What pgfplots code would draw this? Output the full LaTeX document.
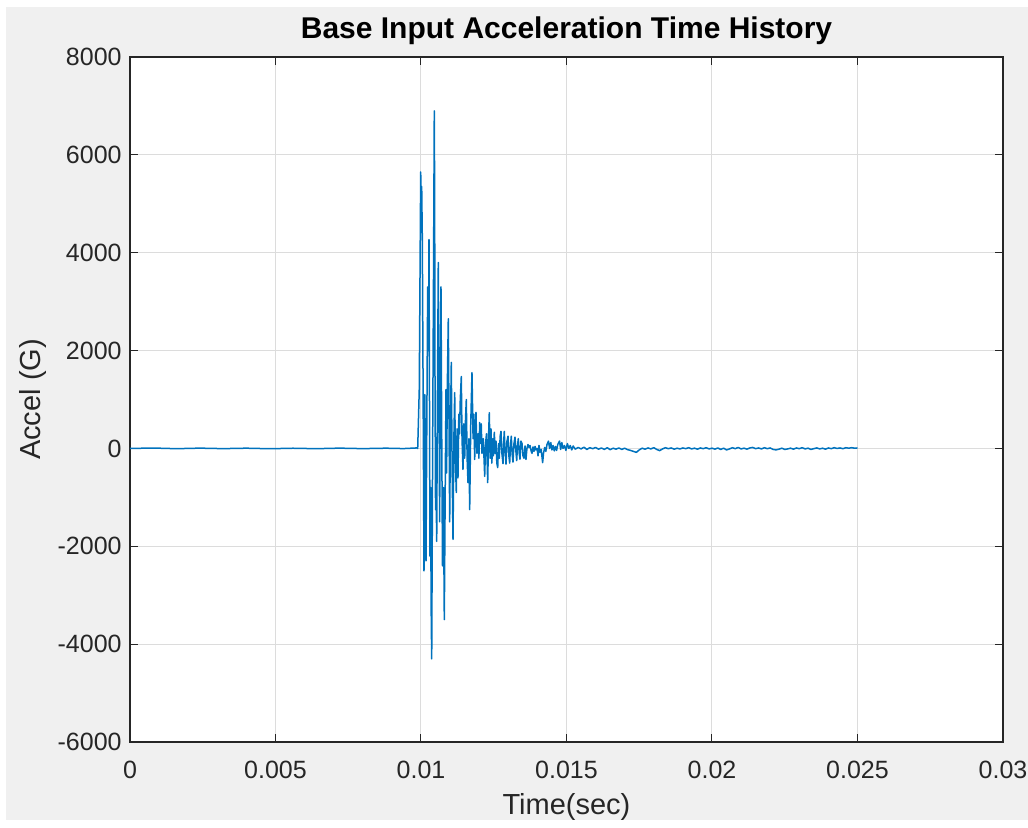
\documentclass[border=0pt]{standalone}
\usepackage{fontspec}
\setmainfont{Liberation Sans}
\usepackage{pgfplots}
\pgfplotsset{compat=1.18}
\definecolor{figbg}{HTML}{F0F0F0}
\definecolor{axgray}{HTML}{262626}
\definecolor{gridgray}{HTML}{DCDCDC}
\definecolor{mblue}{HTML}{0072BD}
\begin{document}
\begin{tikzpicture}
\useasboundingbox (-65pt,-42.5pt) rectangle (449pt,371pt);
\fill[white] (-65pt,-42.5pt) rectangle (449pt,371pt);
\fill[figbg] (-62pt,-39pt) rectangle (449pt,367.5pt);
\begin{axis}[
    at={(0,0)}, anchor=south west,
    scale only axis,
    width=436.5pt, height=342.5pt,
    xmin=0, xmax=0.03, ymin=-6000, ymax=8000,
    scaled x ticks=false, scaled y ticks=false,
    xtick={0,0.005,0.01,0.015,0.02,0.025,0.03},
    xticklabels={0,0.005,0.01,0.015,0.02,0.025,0.03},
    ytick={-6000,-4000,-2000,0,2000,4000,6000,8000},
    yticklabels={-6000,-4000,-2000,0,2000,4000,6000,8000},
    axis background/.style={fill=white},
    axis line style={axgray, line width=0.6pt},
    grid=major,
    major grid style={gridgray, line width=0.5pt},
    tick align=inside,
    major tick length=4pt,
    tick style={axgray, line width=0.5pt},
    ticklabel style={font=\fontsize{12.5}{14}\selectfont, text=axgray},
    xticklabel style={anchor=north, inner sep=0pt, yshift=-9.5pt},
    yticklabel style={anchor=east, inner sep=0pt, xshift=-4pt},
    every axis title shift=0pt,
    title={\textbf{Base Input Acceleration Time History}},
    title style={at={(axis description cs:0.5,1.0277)}, anchor=base, inner sep=0pt, font=\fontsize{15}{17}\selectfont, text=black},
    xlabel={Time(sec)},
    xlabel style={at={(axis description cs:0.5,-0.1051)}, anchor=base, inner sep=0pt, font=\fontsize{14.5}{16}\selectfont, text=axgray},
    ylabel={Accel (G)},
    ylabel style={at={(axis description cs:-0.1111,0.5)}, anchor=center, inner sep=0pt, font=\fontsize{14.5}{16}\selectfont, text=axgray},
]
\addplot[mblue, line width=0.75pt, line join=round] coordinates {
(0,0) (0.0008,8) (0.0016,-5) (0.0024,6) (0.0032,-4) (0.004,5) (0.0048,-6)
(0.0056,4) (0.0064,-5) (0.0072,6) (0.008,-4) (0.0088,5) (0.0094,-3) (0.00985,10)
(0.009887,0) (0.009940,1200) (0.009990,5650) (0.010010,4800) (0.010024,5350)
(0.010045,4300) (0.010070,1500) (0.010103,-2500) (0.010120,-1200) (0.010131,1100)
(0.010150,-300) (0.010172,-2300) (0.010200,500) (0.010230,3300) (0.010255,2000)
(0.010275,4270) (0.010292,1000) (0.010309,-2200) (0.010330,-800) (0.010350,-3300)
(0.010368,-4300) (0.010400,0) (0.010430,3500) (0.010457,6900) (0.010470,5000)
(0.010481,1500) (0.010500,-1250) (0.010515,-600) (0.010540,-1900) (0.010560,500)
(0.010594,3800) (0.010620,1000) (0.010640,-1500) (0.010660,800) (0.010687,3300)
(0.010710,500) (0.010739,-2400) (0.010770,-800) (0.010801,-3500) (0.010830,-1000)
(0.010859,1200) (0.010880,-500) (0.010910,1500) (0.010938,2650) (0.010960,800)
(0.010986,-1500) (0.011010,300) (0.011041,1760) (0.011070,-400) (0.011100,-1860)
(0.011130,200) (0.011158,1140) (0.011185,-300) (0.011213,-900) (0.011240,400)
(0.011271,-600) (0.011300,700) (0.011323,300) (0.011350,1000) (0.011385,1470)
(0.011410,200) (0.011443,-430) (0.011470,500) (0.011502,-200) (0.011530,600)
(0.011557,1000) (0.011585,-200) (0.011615,-700) (0.011645,200) (0.011673,-1250)
(0.011710,500) (0.011752,1550) (0.011790,200) (0.011815,700) (0.011845,-225)
(0.011870,400) (0.011890,735) (0.011920,-100) (0.011959,300) (0.011990,-200)
(0.012017,530) (0.012050,100) (0.012070,500) (0.012096,-100) (0.012140,200)
(0.012189,-570) (0.012220,100) (0.012251,300) (0.012292,-700) (0.012320,200)
(0.012347,730) (0.012375,-200) (0.012405,400) (0.012435,-300) (0.012464,200)
(0.012490,-150) (0.012519,330) (0.012550,-100) (0.012577,150) (0.012606,-300)
(0.012636,-390) (0.012665,100) (0.012691,-200) (0.012720,250) (0.012749,350)
(0.012780,-100) (0.012818,-310) (0.012840,100) (0.012862,350) (0.012890,-50)
(0.012921,-320) (0.012955,150) (0.012990,250) (0.013020,-150) (0.013048,-300)
(0.013075,50) (0.013103,250) (0.013130,-100) (0.013161,-280) (0.013195,100)
(0.013230,230) (0.013260,-50) (0.013289,-250) (0.013315,50) (0.013344,200)
(0.013375,-100) (0.013402,-220) (0.013435,150) (0.013471,100) (0.013505,-150)
(0.013539,-200) (0.013575,50) (0.013608,-225) (0.013640,0) (0.013677,80)
(0.013710,20) (0.013746,60) (0.013780,-40) (0.013814,-100) (0.013850,30)
(0.013883,-60) (0.013920,40) (0.013952,-30) (0.013990,0) (0.014021,-150)
(0.014055,60) (0.014089,-80) (0.014130,-20) (0.014180,-290) (0.014210,-100)
(0.014250,20) (0.014290,-60) (0.014330,80) (0.014380,150) (0.014420,0)
(0.014460,120) (0.014500,-30) (0.014540,60) (0.014580,-50) (0.014620,40)
(0.014660,-40) (0.014700,80) (0.014760,150) (0.014800,-20) (0.014840,120)
(0.014880,0) (0.014930,60) (0.014980,-40) (0.015030,100) (0.015080,0)
(0.015130,60) (0.015180,-30) (0.015230,50)
(0.01530,-15) (0.01540,20) (0.01550,-10) (0.01560,25) (0.01570,-20) (0.01580,15)
(0.01590,-5) (0.01600,20) (0.01610,-15) (0.01620,10) (0.01630,-20) (0.01640,15)
(0.01650,-25) (0.01660,5) (0.01670,-15) (0.01680,10) (0.01690,-20) (0.01700,5)
(0.01710,-25) (0.01720,-40) (0.01730,-60) (0.01740,-80) (0.01750,-30) (0.01760,5)
(0.01770,-15) (0.01780,10) (0.01790,-10) (0.01800,15) (0.01810,-20) (0.01820,-45)
(0.01830,-10) (0.01840,15) (0.01850,-5) (0.01860,10) (0.01870,-15) (0.01880,5)
(0.01890,-10) (0.01900,10) (0.01910,-5) (0.01920,15) (0.01930,-10) (0.01940,5)
(0.01950,-15) (0.01960,10) (0.01970,-5) (0.01980,15) (0.01990,-10) (0.02000,5)
(0.02010,-15) (0.02020,10) (0.02030,-20) (0.02040,5) (0.02050,-30) (0.02060,-10)
(0.02070,15) (0.02080,-5) (0.02090,20) (0.02100,-10) (0.02110,5) (0.02120,-15)
(0.02130,10) (0.02140,20) (0.02150,-5) (0.02160,10) (0.02170,-10) (0.02180,15)
(0.02190,-5) (0.02200,10) (0.02210,-20) (0.02220,-30) (0.02230,-15) (0.02240,5)
(0.02250,-20) (0.02260,-10) (0.02270,5) (0.02280,-15) (0.02290,10) (0.02300,-5)
(0.02310,15) (0.02320,-10) (0.02330,5) (0.02340,-20) (0.02350,-5) (0.02360,10)
(0.02370,-10) (0.02380,5) (0.02390,-15) (0.02400,10) (0.02410,-5) (0.02420,15)
(0.02430,0) (0.02440,10) (0.02450,-5) (0.02460,15) (0.02470,5) (0.02480,15)
(0.02490,5) (0.02500,10)
};
\end{axis}
\end{tikzpicture}
\end{document}
